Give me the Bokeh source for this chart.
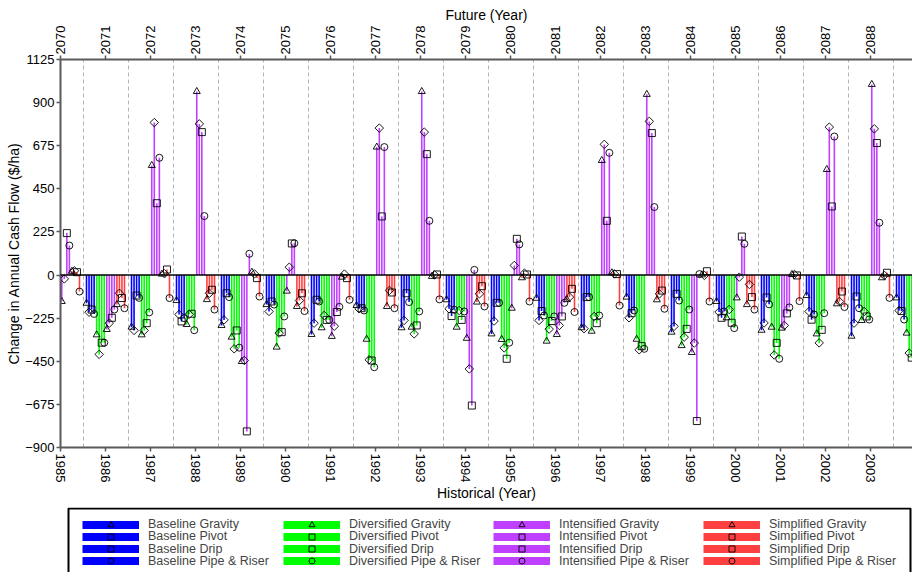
import math
from bokeh.plotting import figure
from bokeh.layouts import column
from bokeh.models import (ColumnDataSource, Range1d, LinearAxis, FixedTicker,
                          Span, Legend, LegendItem, BoxAnnotation)
from bokeh.embed import file_html
from bokeh.resources import INLINE

nan = float("nan")

# ---------------- data ----------------
years = list(range(1985, 2005))
future_years = list(range(2070, 2090))
y_ticks = [-900, -675, -450, -225, 0, 225, 450, 675, 900, 1125]
scenarios = ["Baseline", "Diversified", "Intensified", "Simplified"]
systems = ["Gravity", "Pivot", "Drip", "Pipe & Riser"]

baseline_gravity = [nan, -147, -272, -133, -263, -154, -310, -159, -275, -129, -307, -121, -275, -115, -298, -138, -288, -107, -319, -119]
baseline_pivot = [nan, -194, -289, -206, -234, -190, -251, -176, -237, -176, -240, -237, -280, -223, -268, -193, -250, -190, -251, -185]
baseline_drip = [nan, -180, -107, -242, -95, -138, -129, -173, -95, -214, -145, -188, -115, -199, -98, -223, -117, -233, -112, -188]
baseline_pipe = [nan, -203, -119, -225, -115, -154, -138, -185, -141, -181, -145, -211, -115, -185, -133, -190, -153, -206, -173, -232]

diversified_gravity = [nan, -312, -312, -258, -324, -376, -275, -335, -272, -272, -336, -345, -293, -335, -368, -223, -272, -307, -237, -303]
diversified_pivot = [nan, -414, -289, -205, -385, -303, -211, -442, -307, -185, -380, -282, -216, -390, -324, -180, -417, -354, -190, -407]
diversified_drip = [nan, -353, -251, -202, -289, -298, -234, -446, -263, -234, -437, -240, -251, -371, -281, -249, -354, -286, -216, -431]
diversified_pipe = [nan, -353, -195, -288, -379, -216, -234, -481, -190, -190, -353, -216, -211, -385, -180, -277, -437, -199, -232, nan]

intensified_gravity = [-138, -284, 572, 958, -451, -84, -320, 668, 958, -330, -173, -310, 598, 943, -404, -119, -277, 551, 995, nan]
intensified_pivot = [-20, -251, 796, 789, -446, 41, -267, 767, 746, -490, 50, -263, 682, 802, -355, -11, -263, 772, 763, nan]
intensified_drip = [219, -223, 375, 746, -816, 165, -193, 306, 631, -681, 189, -216, 283, 741, -762, 201, -200, 358, 689, nan]
intensified_pipe = [154, -180, 612, 308, 111, 166, -166, 668, 283, 27, 160, -145, 638, 355, 5, 163, -169, 723, 273, nan]

simplified_gravity = [20, -154, 5, -128, 15, -164, -11, -164, -7, -141, -14, -128, 12, -129, 1, -154, 3, -150, -14, nan]
simplified_pivot = [22, -95, 7, -95, 6, -133, 5, -80, 1, -98, 10, -115, 6, -98, -2, -49, 3, -138, -2, nan]
simplified_drip = [15, -120, 29, -77, -16, -95, -16, -91, 3, -58, 3, -72, 5, -81, 20, -115, -2, -86, 12, nan]
simplified_pipe = [-86, -173, -120, -180, -112, -188, -129, -173, -127, -164, -138, -193, -159, -176, -138, -180, -136, -167, -119, nan]

series = [
    baseline_gravity, baseline_pivot, baseline_drip, baseline_pipe,
    diversified_gravity, diversified_pivot, diversified_drip, diversified_pipe,
    intensified_gravity, intensified_pivot, intensified_drip, intensified_pipe,
    simplified_gravity, simplified_pivot, simplified_drip, simplified_pipe,
]

# ---------------- style ----------------
colors = ["#0000FF", "#00FF00", "#BF40FF", "#FF4040"]
markers = ["triangle", "square", "square", "circle"]
angles = [0, math.pi / 4, 0, 0]
sizes = [7, 6, 7, 7]
FONT = "Liberation Sans"
AXIS_COLOR = "#5a5a5a"
W, H_PAGE = 912, 572
LEFT, TOP, BOTTOM = 60, 59, 60
FRAME_H = 388
PX_PER_YEAR = 45.0
STEP = 0.05625

frame_w = W - LEFT
x_end = 1985 + frame_w / PX_PER_YEAR
MAIN_H = TOP + FRAME_H + BOTTOM
p = figure(width=W, height=MAIN_H,
           x_range=Range1d(1985, x_end), y_range=Range1d(-900, 1125),
           output_backend="svg", toolbar_location=None,
           min_border_left=LEFT, min_border_right=0, min_border_top=TOP,
           min_border_bottom=BOTTOM)
p.outline_line_color = None
p.background_fill_color = "white"
p.border_fill_color = "white"
p.extra_x_ranges = {"future": Range1d(2070, 2070 + frame_w / PX_PER_YEAR)}

# stems first
srcs = []
for k, vals in enumerate(series):
    s, m = divmod(k, 4)
    xs = [yr + (k - 7.5) * STEP for yr in years]
    src = ColumnDataSource(dict(x=xs, y=vals, base=[0] * len(vals)))
    srcs.append(src)
    p.segment(x0="x", y0="base", x1="x", y1="y", source=src,
              line_color=colors[s], line_width=1.6)

p.add_layout(Span(location=0, dimension="width", line_color="black", line_width=1.5))

for k, src in enumerate(srcs):
    s, m = divmod(k, 4)
    p.scatter("x", "y", source=src, marker=markers[m], size=sizes[m],
              angle=angles[m], line_color="black", line_width=0.9,
              fill_color=None)

# grid
p.ygrid.grid_line_color = None
p.xgrid.ticker = FixedTicker(ticks=[yr + 0.5 for yr in years])
p.xgrid.grid_line_color = "#b4b4b4"
p.xgrid.grid_line_dash = "4 3"
p.xgrid.grid_line_width = 1


def style_axis(ax):
    ax.axis_line_color = AXIS_COLOR
    ax.axis_line_width = 2
    ax.major_tick_line_color = AXIS_COLOR
    ax.major_tick_line_width = 1.5
    ax.major_tick_out = 4
    ax.major_tick_in = 0
    ax.minor_tick_line_color = None
    ax.major_label_text_font = FONT
    ax.major_label_text_font_size = "13px"
    ax.major_label_text_color = "black"
    ax.major_label_standoff = 2
    ax.axis_label_text_font = FONT
    ax.axis_label_text_font_size = "14px"
    ax.axis_label_text_font_style = "normal"
    ax.axis_label_text_color = "black"
    ax.axis_label_standoff = 0


bottom = p.below[0]
bottom.ticker = FixedTicker(ticks=years)
bottom.major_label_orientation = "vertical"
bottom.axis_label = "Historical (Year)"
style_axis(bottom)

left = p.left[0]
left.ticker = FixedTicker(ticks=y_ticks)
left.axis_label = "Change in Annual Cash Flow ($/ha)"
style_axis(left)

top = LinearAxis(x_range_name="future", ticker=FixedTicker(ticks=future_years),
                 axis_label="Future (Year)")
top.major_label_orientation = "vertical"
style_axis(top)
top.major_label_standoff = 1
p.add_layout(top, "above")

# ---------------- legend panel (page-pixel coordinates) ----------------
LEG_H = H_PAGE - MAIN_H
lg = figure(width=W, height=LEG_H, x_axis_type=None, y_axis_type=None,
            x_range=Range1d(LEFT, W), y_range=Range1d(H_PAGE, MAIN_H),
            output_backend="svg", toolbar_location=None,
            min_border_left=LEFT, min_border_right=0,
            min_border_top=0, min_border_bottom=0)
lg.outline_line_color = None
lg.background_fill_color = "white"
lg.border_fill_color = "white"
lg.add_layout(BoxAnnotation(left=68, right=910, top=508, bottom=600,
                            fill_alpha=0, fill_color=None, line_alpha=1,
                            line_color="black", line_width=2, level="underlay"))

col_x = [82, 283, 493, 703]
row_y = [524, 536.3, 548.6, 560.9]
GH = 15
for s in range(4):
    for m in range(4):
        # placeholder renderers (one invisible NaN point) that only provide the legend glyphs
        bar = lg.line(x=[nan], y=[nan], line_color=colors[s], line_width=8, line_cap="butt")
        mk = lg.scatter(x=[nan], y=[nan], marker=markers[m], angle=angles[m],
                        size=sizes[m], line_color="black", line_width=0.9,
                        fill_color=None)
        item = LegendItem(label=f"{scenarios[s]} {systems[m]}", renderers=[bar, mk])
        leg = Legend(items=[item], orientation="vertical",
                     location=(col_x[s] - LEFT, (H_PAGE - row_y[m]) - GH / 2),
                     glyph_width=57, glyph_height=GH, label_height=GH,
                     label_standoff=9, spacing=0, padding=0, margin=0,
                     border_line_color=None, background_fill_alpha=0,
                     label_text_font=FONT, label_text_font_size="12.5px")
        lg.add_layout(leg, "center")

open("out.html", "w").write(file_html(column(p, lg, spacing=0), INLINE))
